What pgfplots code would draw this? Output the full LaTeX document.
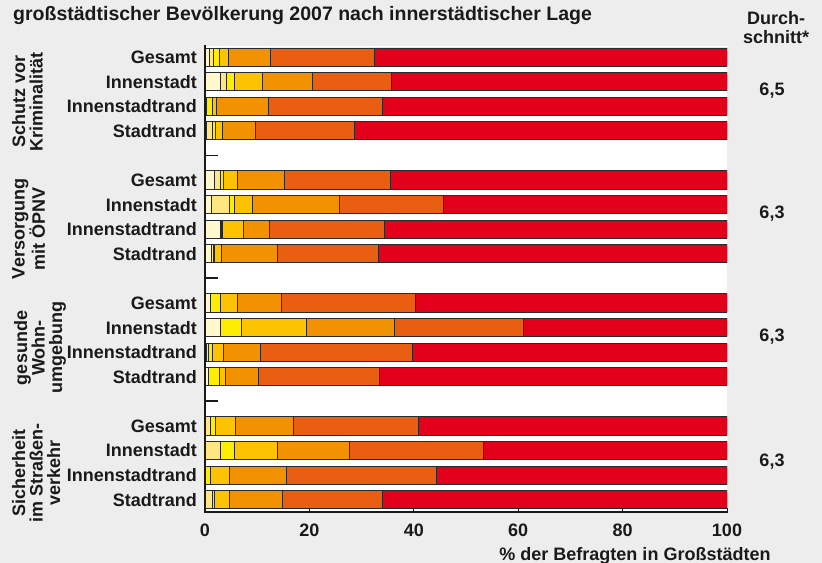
\documentclass[border=0pt]{standalone}
\usepackage{fontspec}
\setmainfont{Liberation Sans}
\usepackage{pgfplots}
\usepackage{pgfplotstable}
\pgfplotsset{compat=1.18}
\definecolor{bg}{HTML}{EDEDED}
\definecolor{c1}{HTML}{FFF8CC}
\definecolor{c2}{HTML}{FFE680}
\definecolor{c3}{HTML}{FFED00}
\definecolor{c4}{HTML}{FDC300}
\definecolor{c5}{HTML}{F39200}
\definecolor{c6}{HTML}{E95E10}
\definecolor{c7}{HTML}{E2001A}
\definecolor{txt}{HTML}{1A1A1A}
\definecolor{edge}{HTML}{2A2A2A}
\newcommand\lab{\fontsize{18bp}{17.5bp}\selectfont\bfseries}
\newcommand\ttl{\fontsize{19.5bp}{20bp}\selectfont\bfseries}
\pgfplotstableread{
y c1 c2 c3 c4 c5 c6 c7
0 0.8 0.9 1.0 1.8 8.0 19.9 67.6
1 2.9 1.3 1.4 5.5 9.5 15.2 64.2
2 0.2 0.0 1.2 0.8 9.9 21.8 66.1
3 0.2 1.2 0.6 1.3 6.3 19.0 71.4
5 1.9 1.0 0.6 2.8 9.0 20.3 64.4
6 1.3 3.4 1.0 3.3 16.7 19.9 54.4
7 2.9 0.2 0.2 4.0 5.1 21.9 65.7
8 1.3 0.4 0.2 1.2 10.8 19.3 66.8
10 1.1 0.0 1.8 3.4 8.3 25.8 59.6
11 2.9 0.0 4.1 12.5 16.7 24.9 38.9
12 0.3 0.3 0.8 2.2 7.1 29.0 60.3
13 0.6 0.0 2.1 1.3 6.2 23.3 66.5
15 0.0 1.1 0.9 3.9 11.1 23.8 59.2
16 0.0 2.9 2.7 8.3 13.7 25.8 46.6
17 0.0 0.0 1.0 3.6 11.0 28.8 55.6
18 0.0 1.4 0.5 2.7 10.2 19.1 66.1
}\data
\begin{document}
\begin{tikzpicture}
\useasboundingbox (0,0) rectangle (822bp,563bp);
\fill[bg] (0,0) rectangle (822bp,563bp);
\begin{axis}[
  name=ax,
  at={(205bp,51bp)}, anchor=south west,
  scale only axis, width=522bp, height=466bp,
  xbar stacked, bar width=0.74,
  xmin=0, xmax=100, ymin=-0.45, ymax=18.5, y dir=reverse,
  axis background/.style={fill=white},
  axis on top,
  axis x line*=bottom, axis y line*=left,
  axis line style={-, line width=2bp, draw=txt},
  tick align=inside,
  major tick length=13bp,
  major tick style={line width=1.8bp, draw=txt},
  ytick={4,9,14}, yticklabels={},
  extra y ticks={0,1,2,3,5,6,7,8,10,11,12,13,15,16,17,18},
  extra y tick labels={Gesamt,Innenstadt,Innenstadtrand,Stadtrand,Gesamt,Innenstadt,Innenstadtrand,Stadtrand,Gesamt,Innenstadt,Innenstadtrand,Stadtrand,Gesamt,Innenstadt,Innenstadtrand,Stadtrand},
  extra y tick style={major tick length=0pt},
  yticklabel style={font=\lab, text=txt, anchor=east, inner sep=0pt, xshift=-8bp},
  xtick=\empty,
  extra x ticks={0,20,40,60,80,100},
  extra x tick style={major tick length=4bp, major tick style={line width=1bp, draw=txt}},
  xticklabel style={font=\lab, text=txt, yshift=-8.5bp},
  /pgf/number format/assume math mode=true,
  every axis plot/.append style={draw=edge, line width=0.9bp},
]
\addplot[fill=c1] table[x=c1,y=y]{\data};
\addplot[fill=c2] table[x=c2,y=y]{\data};
\addplot[fill=c3] table[x=c3,y=y]{\data};
\addplot[fill=c4] table[x=c4,y=y]{\data};
\addplot[fill=c5] table[x=c5,y=y]{\data};
\addplot[fill=c6] table[x=c6,y=y]{\data};
\addplot[fill=c7] table[x=c7,y=y]{\data};
\end{axis}
\draw[line width=2.2bp, draw=txt, line cap=rect] (ax.north west) -- (ax.south west) -- (ax.south east);
\node[anchor=base west, inner sep=0, font=\ttl, text=txt] at (13bp,542bp) {großstädtischer Bevölkerung 2007 nach innerstädtischer Lage};
\node[anchor=base, inner sep=0, font=\lab, text=txt] at (776bp,538bp) {Durch-};
\node[anchor=base, inner sep=0, font=\lab, text=txt] at (776bp,519.5bp) {schnitt*};
\node[inner sep=0, font=\lab, text=txt] at (772bp,472.3bp) {6,5};
\node[inner sep=0, font=\lab, text=txt] at (772bp,349bp) {6,3};
\node[inner sep=0, font=\lab, text=txt] at (772bp,226bp) {6,3};
\node[inner sep=0, font=\lab, text=txt] at (772bp,101.3bp) {6,3};
\node[anchor=base, inner sep=0, font=\lab, text=txt] at (635bp,3bp) {\% der Befragten in Großstädten};
\node[rotate=90, anchor=north, align=center, inner sep=0, font=\lab, text=txt] at (12bp,461.3bp) {Schutz vor\\Kriminalität};
\node[rotate=90, anchor=north, align=center, inner sep=0, font=\lab, text=txt] at (12bp,334bp) {Versorgung\\mit ÖPNV};
\node[rotate=90, anchor=north, align=center, inner sep=0, font=\lab, text=txt] at (14bp,215bp) {gesunde\\Wohn-\\umgebung};
\node[rotate=90, anchor=north, align=center, inner sep=0, font=\lab, text=txt] at (12bp,90bp) {Sicherheit\\im Straßen-\\verkehr};
\end{tikzpicture}
\end{document}
